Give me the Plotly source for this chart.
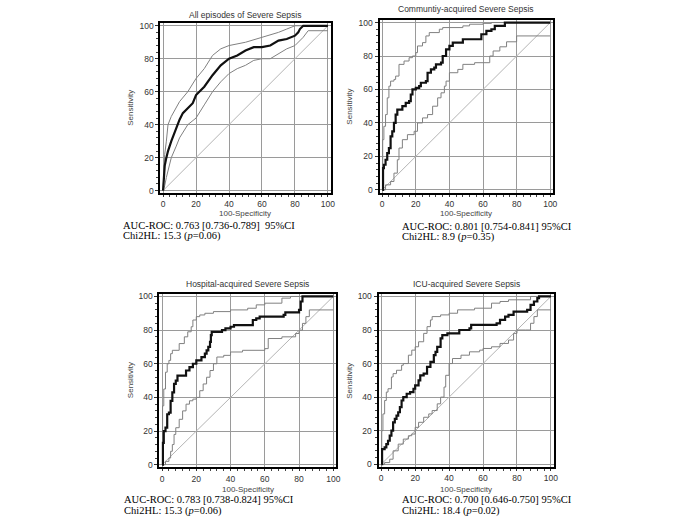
import plotly.graph_objects as go

W, H = 685, 525

# ---------------- data ----------------
titles = ["All episodes of Severe Sepsis", "Communtiy-acquired Severe Sepsis",
          "Hospital-acquired Severe Sepsis", "ICU-acquired Severe Sepsis"]
auc_texts = ["AUC-ROC: 0.763 [0.736-0.789]\u00a0 95%CI", "AUC-ROC: 0.801 [0.754-0.841] 95%CI",
             "AUC-ROC: 0.783 [0.738-0.824] 95%CI", "AUC-ROC: 0.700 [0.646-0.750] 95%CI"]
chi_texts = ["Chi2HL: 15.3 (<i>p</i>=0.06)", "Chi2HL: 8.9 (<i>p</i>=0.35)",
             "Chi2HL: 15.3 (<i>p</i>=0.06)", "Chi2HL: 18.4 (<i>p</i>=0.02)"]
tick_vals = [0, 20, 40, 60, 80, 100]
tick_labels = ["0", "20", "40", "60", "80", "100"]
diag = [0, 100]

# Panel 1 - All episodes
all_main_x = [0, 0.5, 1, 2, 3, 5, 8, 10, 12, 15, 18, 20, 25, 30, 35, 40, 45, 50, 55, 60, 65, 70, 75, 80, 82, 83, 85, 100]
all_main_y = [0, 8, 15, 20, 24, 30, 38, 43, 47, 50, 53, 58, 63, 70, 76, 80, 82, 85, 87, 87, 88, 91, 92, 94, 96, 98, 100, 100]
all_up_x = [0, 0.5, 1, 2, 3, 5, 8, 10, 15, 20, 25, 30, 35, 40, 50, 60, 70, 75, 80, 100]
all_up_y = [0, 15, 22, 30, 40, 45, 50, 54, 60, 68, 74, 82, 86, 88, 90, 93, 96, 98, 100, 100]
all_lo_x = [0, 1, 2, 5, 8, 10, 15, 20, 25, 30, 35, 40, 45, 50, 55, 60, 65, 70, 75, 80, 85, 88, 100]
all_lo_y = [0, 3, 8, 20, 27, 32, 40, 44, 52, 60, 66, 71, 74, 76, 79, 80, 80, 83, 86, 88, 93, 97, 97]

# Panel 2 - Community-acquired
com_main_x = [0, 0.5, 1, 2, 3, 4, 5, 6, 7, 8, 9, 12, 14, 16, 17, 18, 20, 22, 23, 26, 27, 29, 31, 32, 35, 36, 38, 40, 42, 47, 48, 58, 59, 62, 65, 67, 73, 100]
com_main_y = [0, 13, 15, 18, 22, 25, 32, 35, 40, 45, 48, 50, 52, 53, 57, 60, 61, 62, 64, 65, 70, 72, 73, 75, 76, 80, 84, 86, 88, 88, 90, 90, 93, 95, 96, 98, 100, 100]
com_up_x = [0, 0.3, 1, 2, 3, 4, 5, 7, 8, 10, 13, 16, 18, 20, 21, 24, 26, 28, 34, 36, 48, 52, 60, 65, 100]
com_up_y = [0, 30, 38, 45, 55, 62, 65, 66, 68, 75, 77, 79, 80, 82, 86, 88, 92, 94, 96, 97, 98, 99, 99.5, 100, 100]
com_lo_x = [0, 2, 5, 7, 9, 10, 12, 15, 19, 21, 24, 27, 30, 33, 35, 37, 38, 40, 45, 48, 55, 60, 64, 66, 70, 74, 80, 100]
com_lo_y = [0, 3, 5, 10, 18, 25, 30, 33, 35, 40, 43, 45, 50, 55, 58, 62, 65, 70, 72, 75, 76, 76, 80, 83, 85.5, 88.5, 92, 92]

# Panel 3 - Hospital-acquired
hos_main_x = [0, 0.5, 1, 2, 3, 4, 5, 6, 7, 8, 9, 12, 14, 16, 18, 20, 23, 25, 26, 27, 28, 28.5, 29, 35, 37, 40, 42, 52, 53, 55, 57, 71, 72, 80, 81, 82, 100]
hos_main_y = [0, 13, 20, 22, 30, 31, 38, 43, 48, 50, 53, 53, 56, 58, 60, 62, 64, 66, 68, 70, 73, 77, 79, 80, 81, 82, 83, 83, 86, 87, 88, 89, 90.5, 92, 97, 100, 100]
hos_up_x = [0, 0.3, 1, 2, 3, 4, 5, 6, 10, 13, 15, 17, 18, 20, 22, 25, 30, 40, 50, 55, 60, 70, 75, 100]
hos_up_y = [0, 35, 45, 55, 60, 62, 66, 68, 72, 76, 79, 82, 86, 88, 89, 90, 91, 92, 93, 95, 96, 99, 100, 100]
hos_lo_x = [0, 2, 4, 5, 6, 7, 8, 10, 12, 14, 16, 18, 20, 22, 24, 26, 28, 30, 32, 36, 40, 47, 60, 62, 70, 78, 80, 82, 84, 86, 100]
hos_lo_y = [0, 2, 4, 8, 12, 18, 22, 27, 32, 36, 38, 39, 40, 44, 48, 52, 56, 60, 64, 65, 67, 68, 69, 75, 76, 78, 80, 84, 88, 92, 92]

# Panel 4 - ICU-acquired
icu_main_x = [0, 0.5, 2, 3, 4, 5, 6, 7, 8, 9, 10, 11, 12, 13, 15, 17, 19, 20, 22, 23, 25, 27, 29, 31, 32, 33, 35, 36, 39, 42, 46, 52, 53, 60, 68, 70, 73, 75, 78, 86, 88, 90, 92, 93, 100]
icu_main_y = [0, 9, 10, 12, 14, 17, 20, 25, 27, 29, 31, 34, 38, 40, 42, 43, 45, 47, 50, 53, 54, 58, 61, 65, 67, 70, 75, 77, 78, 78, 80, 81, 83, 83, 84, 86, 88, 89, 91, 92, 95, 97, 99, 100, 100]
icu_up_x = [0, 0.3, 1, 2, 3, 4, 6, 7, 9, 12, 13, 16, 18, 20, 22, 25, 27, 29, 30, 35, 40, 45, 55, 65, 70, 75, 88, 100]
icu_up_y = [0, 20, 30, 38, 43, 45, 52, 54, 56, 59, 60, 65, 68, 70, 73, 78, 82, 86, 88, 89, 90, 92, 93, 96, 97, 98, 100, 100]
icu_lo_x = [0, 2, 5, 7, 10, 13, 16, 18, 20, 22, 25, 28, 30, 33, 35, 37, 38, 40, 42, 47, 52, 58, 60, 65, 70, 75, 78, 80, 85, 88, 90, 92, 100]
icu_lo_y = [0, 1, 3, 8, 12, 15, 17, 18, 22, 25, 28, 30, 32, 36, 40, 46, 53, 60, 63, 65, 67, 68, 69, 70, 72, 74, 78, 80, 80, 84, 88, 92, 92]

panels = [
    (all_main_x, all_main_y, all_up_x, all_up_y, all_lo_x, all_lo_y, "linear"),
    (com_main_x, com_main_y, com_up_x, com_up_y, com_lo_x, com_lo_y, "hv"),
    (hos_main_x, hos_main_y, hos_up_x, hos_up_y, hos_lo_x, hos_lo_y, "hv"),
    (icu_main_x, icu_main_y, icu_up_x, icu_up_y, icu_lo_x, icu_lo_y, "hv"),
]

# ---------------- layout geometry (pixels) ----------------
boxes = [  # left, right, top, bottom
    (161.6, 333.0, 21.3, 192.7),
    (382.3, 557.0, 18.0, 192.0),
    (160.5, 338.5, 294.0, 469.0),
    (381.3, 557.7, 294.0, 468.5),
]
title_y = [13, 7, 284, 284]
xtitle_y = [213, 213, 491.5, 491.5]
ytitle_x = [131.5, 352, 131.5, 352]
text_x = [121.7, 402.7, 122.5, 402.7]
auc_y = [225.5, 226, 501.5, 501.5]
chi_y = [236, 236.7, 512.5, 512.5]

SANS = "Liberation Sans, Arial, sans-serif"
SERIF = "Liberation Serif, Times New Roman, serif"

fig = go.Figure()
annotations = []
layout_axes = {}
for i, (mx, my, ux, uy, lx, ly, shape) in enumerate(panels):
    n = "" if i == 0 else str(i + 1)
    xa, ya = "x" + n, "y" + n
    fig.add_trace(go.Scatter(x=diag, y=diag, mode="lines", xaxis=xa, yaxis=ya,
                             line=dict(color="#b4b4b4", width=1), showlegend=False, hoverinfo="skip"))
    fig.add_trace(go.Scatter(x=ux, y=uy, mode="lines", xaxis=xa, yaxis=ya,
                             line=dict(color="#808080", width=1, shape=shape), showlegend=False))
    fig.add_trace(go.Scatter(x=lx, y=ly, mode="lines", xaxis=xa, yaxis=ya,
                             line=dict(color="#808080", width=1, shape=shape), showlegend=False))
    fig.add_trace(go.Scatter(x=mx, y=my, mode="lines", xaxis=xa, yaxis=ya,
                             line=dict(color="#111111", width=2.2, shape=shape), showlegend=False))

    l, r, t, b = boxes[i]
    common = dict(range=[-1.6, 101.6], tickvals=tick_vals, ticktext=tick_labels,
                  showgrid=True, gridcolor="#9a9a9a", gridwidth=1, zeroline=False,
                  showline=True, linecolor="#000000", linewidth=2, mirror=True,
                  ticks="outside", ticklen=3, tickcolor="#333333",
                  minor=dict(dtick=4, ticks="outside", ticklen=2, tickcolor="#444444", showgrid=False),
                  tickfont=dict(family=SANS, size=8.5, color="#333333"), fixedrange=True)
    xcommon = dict(common, ticklen=2)
    layout_axes["xaxis" + n] = dict(xcommon, domain=[l / W, r / W], anchor=ya)
    layout_axes["yaxis" + n] = dict(common, domain=[1 - b / H, 1 - t / H], anchor=xa)

    cx = (l + r) / 2 / W
    cy = 1 - (t + b) / 2 / H
    annotations.append(dict(text=titles[i], x=cx, y=1 - title_y[i] / H, xref="paper", yref="paper",
                            showarrow=False, xanchor="center", yanchor="middle",
                            font=dict(family=SANS, size=8.5, color="#333333")))
    annotations.append(dict(text="100-Specificity", x=cx, y=1 - xtitle_y[i] / H, xref="paper", yref="paper",
                            showarrow=False, xanchor="center", yanchor="middle",
                            font=dict(family=SANS, size=8, color="#444444")))
    annotations.append(dict(text="Sensitivity", x=ytitle_x[i] / W, y=cy, xref="paper", yref="paper",
                            showarrow=False, xanchor="center", yanchor="middle", textangle=-90,
                            font=dict(family=SANS, size=8, color="#444444")))
    annotations.append(dict(text=auc_texts[i], x=text_x[i] / W, y=1 - auc_y[i] / H, xref="paper", yref="paper",
                            showarrow=False, xanchor="left", yanchor="middle",
                            font=dict(family=SERIF, size=10.5, color="#000000")))
    annotations.append(dict(text=chi_texts[i], x=text_x[i] / W, y=1 - chi_y[i] / H, xref="paper", yref="paper",
                            showarrow=False, xanchor="left", yanchor="middle",
                            font=dict(family=SERIF, size=10.5, color="#000000")))

fig.update_layout(width=W, height=H, margin=dict(l=0, r=0, t=0, b=0),
                  paper_bgcolor="white", plot_bgcolor="white",
                  annotations=annotations, showlegend=False, **layout_axes)

fig.write_html("out.html", config={"displayModeBar": False},
               post_script="document.body.style.margin='0';document.body.style.padding='0';")
